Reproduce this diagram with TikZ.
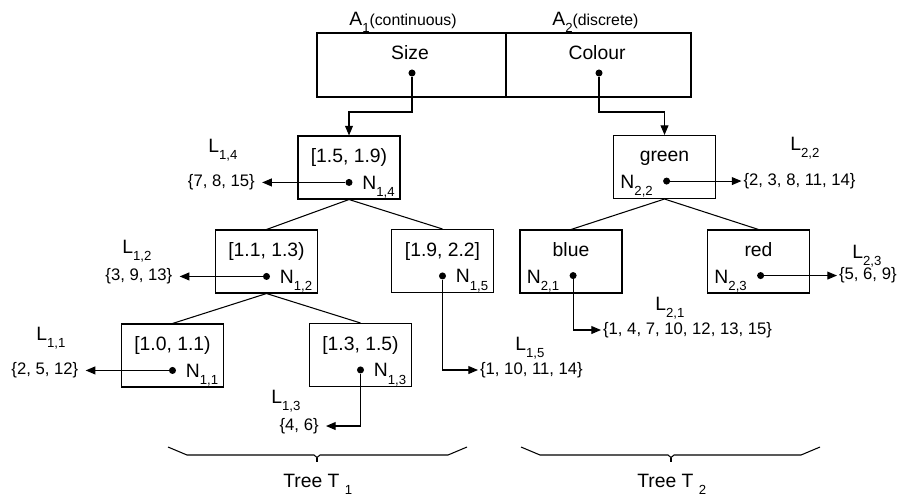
\documentclass[tikz,border=0pt]{standalone}
\usepackage{fontspec}
\setmainfont{Liberation Sans}
\usetikzlibrary{arrows.meta,positioning}
\newcommand{\lowidx}[1]{\raisebox{-4pt}{\fontsize{7.5}{8}\selectfont #1}}

\begin{document}
\begin{tikzpicture}[
    x=0.02cm, y=-0.02cm,
    font=\fontsize{11}{13}\selectfont,
    box/.style={rectangle, draw, line width=0.6pt, minimum width=2.04cm, minimum height=1.26cm},
    cell/.style={rectangle, draw, line width=0.6pt, minimum height=1.28cm},
    arrow/.style={->, >={Triangle[length=5.5pt,width=4.5pt]}, line width=0.6pt},
    edge/.style={line width=0.6pt},
    dot/.style={circle, fill, inner sep=0pt, minimum size=4pt},
    set/.style={font=\fontsize{9.5}{11}\selectfont, inner ysep=1pt, inner xsep=1pt},
    setl/.style={set, inner xsep=4pt},
    lbl/.style={inner sep=0pt, anchor=base west}
]
    \useasboundingbox (0,0) rectangle (911,498);

    % Attribute table
    \node[cell, minimum width=3.78cm] (a1) at (411.5,65) {};
    \node[cell, minimum width=3.7cm] (a2) at (598.5,65) {};
    \node[lbl] (h1) at (349,25) {A\lowidx{1}{\fontsize{9}{11}\selectfont(continuous)}};
    \node[lbl] (h2) at (552,25) {A\lowidx{2}{\fontsize{9}{11}\selectfont(discrete)}};
    \node[anchor=base] (size) at (410,59) {Size};
    \node[anchor=base] (colour) at (597,59) {Colour};
    \node[dot] (d1) at (412,73) {};
    \node[dot] (d2) at (599,73) {};

    % Tree T1
    \node[box] (n14) at (349,167.5) {};
    \node[box] (n12) at (266.5,261.5) {};
    \node[box] (n15) at (442.5,261) {};
    \node[box] (n11) at (172.5,355.5) {};
    \node[box] (n13) at (360.5,355) {};

    \node[anchor=base] (t14) at ([yshift=2.6pt]n14.center) {[1.5, 1.9)};
    \node[anchor=base] (t12) at ([yshift=2.6pt]n12.center) {[1.1, 1.3)};
    \node[anchor=base] (t15) at ([yshift=2.6pt]n15.center) {[1.9, 2.2]};
    \node[anchor=base] (t11) at ([yshift=2.6pt]n11.center) {[1.0, 1.1)};
    \node[anchor=base] (t13) at ([yshift=2.6pt]n13.center) {[1.3, 1.5)};

    \node[dot] (p14) at ([yshift=-8.5pt]n14.center) {};
    \node[dot] (p12) at ([yshift=-8.5pt]n12.center) {};
    \node[dot] (p15) at ([yshift=-8.5pt]n15.center) {};
    \node[dot] (p11) at ([yshift=-8.5pt]n11.center) {};
    \node[dot] (p13) at ([yshift=-8.5pt]n13.center) {};

    \node[lbl] (m14) at ([xshift=7.4pt,yshift=-12.5pt]n14.center) {N\lowidx{1,4}};
    \node[lbl] (m12) at ([xshift=7.4pt,yshift=-12.5pt]n12.center) {N\lowidx{1,2}};
    \node[lbl] (m15) at ([xshift=7.4pt,yshift=-12.5pt]n15.center) {N\lowidx{1,5}};
    \node[lbl] (m11) at ([xshift=7.4pt,yshift=-12.5pt]n11.center) {N\lowidx{1,1}};
    \node[lbl] (m13) at ([xshift=7.4pt,yshift=-12.5pt]n13.center) {N\lowidx{1,3}};

    \node[setl, left=1.66cm of p14] (s14) {\{7, 8, 15\}};
    \node[setl, left=1.66cm of p12] (s12) {\{3, 9, 13\}};
    \node[setl, left=1.66cm of p11] (s11) {\{2, 5, 12\}};
    \node[setl, anchor=east] (s13) at (326,426) {\{4, 6\}};
    \node[set, anchor=west] (s15) at (478,370) {\{1, 10, 11, 14\}};

    \node[lbl] (l14) at (208,152) {L\lowidx{1,4}};
    \node[lbl] (l12) at (122,253) {L\lowidx{1,2}};
    \node[lbl] (l11) at (36,340) {L\lowidx{1,1}};
    \node[lbl] (l13) at (271,403) {L\lowidx{1,3}};
    \node[lbl] (l15) at (515,350) {L\lowidx{1,5}};

    % Tree T2
    \node[box] (n22) at (664.5,167) {};
    \node[box] (n21) at (571,261.5) {};
    \node[box] (n23) at (758.5,261.5) {};

    \node[anchor=base] (t22) at ([yshift=3.4pt]n22.center) {green};
    \node[anchor=base] (t21) at ([yshift=2.6pt]n21.center) {blue};
    \node[anchor=base] (t23) at ([yshift=2.6pt]n23.center) {red};

    \node[dot] (p22) at ([xshift=1.2pt,yshift=-8pt]n22.center) {};
    \node[dot] (p21) at ([xshift=1.2pt,yshift=-8pt]n21.center) {};
    \node[dot] (p23) at ([xshift=1.2pt,yshift=-8pt]n23.center) {};

    \node[lbl, anchor=base east] (m22) at ([xshift=-6.5pt,yshift=-12.5pt]n22.center) {N\lowidx{2,2}};
    \node[lbl, anchor=base east] (m21) at ([xshift=-6.5pt,yshift=-12.5pt]n21.center) {N\lowidx{2,1}};
    \node[lbl, anchor=base east] (m23) at ([xshift=-6.5pt,yshift=-12.5pt]n23.center) {N\lowidx{2,3}};

    \node[set, right=1.42cm of p22] (s22) {\{2, 3, 8, 11, 14\}};
    \node[set, right=1.45cm of p23] (s23) {\{5, 6, 9\}};
    \node[set, anchor=west] (s21) at (601,330) {\{1, 4, 7, 10, 12, 13, 15\}};

    \node[lbl] (l22) at (790,150) {L\lowidx{2,2}};
    \node[lbl] (l21) at (655,310) {L\lowidx{2,1}};
    \node[lbl] (l23) at (852,258) {L\lowidx{2,3}};

    % Edges
    \draw[edge] (n14.south) -- (n12.north);
    \draw[edge] (n14.south) -- (n15.north);
    \draw[edge] (n12.south) -- (n11.north);
    \draw[edge] (n12.south) -- (n13.north);
    \draw[edge] (n22.south) -- (n21.north);
    \draw[edge] (n22.south) -- (n23.north);

    % Arrows
    \draw[arrow] (d1) -- ++(0,39) -| (n14);
    \draw[arrow] (d2) -- ++(0,39) -| (n22);
    \draw[arrow] (p14) -- (s14);
    \draw[arrow] (p12) -- (s12);
    \draw[arrow] (p11) -- (s11);
    \draw[arrow] (p13) |- (s13);
    \draw[arrow] (p15) |- (s15);
    \draw[arrow] (p22) -- (s22);
    \draw[arrow] (p23) -- (s23);
    \draw[arrow] (p21) |- (s21);

    % Braces
    \draw[edge] (168,447) -- (187,455) -- (314,455) -- (317,457.5) -- (320,455) -- (448,455) -- (467,447);
    \draw[edge] (317,457.5) -- (317,462);
    \draw[edge] (521,447) -- (540,455) -- (668,455) -- (671,457.5) -- (674,455) -- (801,455) -- (820,447);
    \draw[edge] (671,457.5) -- (671,462);
    \node[lbl] (tree1) at (283,487) {Tree T \lowidx{1}};
    \node[lbl] (tree2) at (637,487) {Tree T \lowidx{2}};
\end{tikzpicture}
\end{document}
